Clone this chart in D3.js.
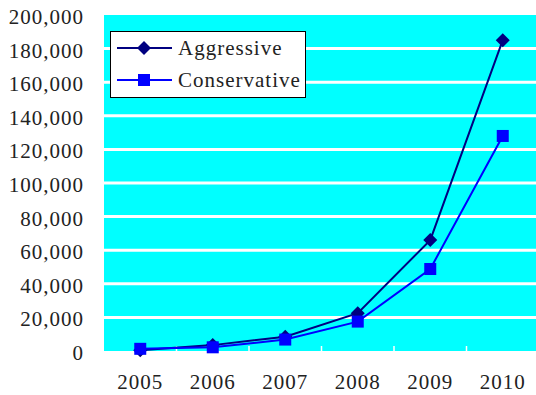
<!DOCTYPE html>
<html>
<head>
<meta charset="utf-8">
<script src="https://cdn.jsdelivr.net/npm/d3@7"></script>
<style>
  html, body { margin: 0; padding: 0; background: #fff; }
  svg { display: block; }
  svg text { font-family: 'Liberation Serif', 'Times New Roman', serif; fill: #222; }
</style>
</head>
<body>
<svg id="chart" width="536" height="395"></svg>
<script>
// Yearly totals for the two growth scenarios
const years = ["2005", "2006", "2007", "2008", "2009", "2010"];
const aggressive = [500, 3500, 8500, 22500, 66000, 185000];
const conservative = [1300, 2200, 6800, 17500, 48800, 128000];
const yTicks = [0, 20000, 40000, 60000, 80000, 100000, 120000, 140000, 160000, 180000, 200000];
const seriesNames = ["Aggressive", "Conservative"];

const svg = d3.select("#chart");
const plot = { left: 104, right: 539, top: 15, bottom: 351 };

const x = d3.scaleBand().domain(years).range([plot.left, plot.right]);
const y = d3.scaleLinear().domain([0, 200000]).range([plot.bottom, plot.top]);
const cx = d => x(d) + x.bandwidth() / 2;

// Plot background
svg.append("rect")
  .attr("x", plot.left).attr("y", plot.top)
  .attr("width", plot.right - plot.left).attr("height", plot.bottom - plot.top)
  .attr("fill", "#00ffff");

// Horizontal gridlines
svg.append("g").selectAll("line")
  .data(yTicks.filter(v => v > 0 && v < 200000))
  .join("line")
  .attr("x1", plot.left).attr("x2", plot.right)
  .attr("y1", d => y(d)).attr("y2", d => y(d))
  .attr("stroke", "#fff").attr("stroke-width", 3);

// Y axis labels
const fmt = d3.format(",");
const yAxis = d3.axisLeft(y).tickValues(yTicks).tickFormat(fmt).tickSize(0).tickPadding(20);
const gy = svg.append("g").attr("transform", `translate(${plot.left},0)`).call(yAxis);
gy.attr("font-family", null);
gy.select(".domain").remove();
gy.selectAll("text")
  .attr("font-size", 21).attr("letter-spacing", 1)
  .attr("fill", "#222").attr("dy", "0.4em");

// X axis: white inward tick marks at band edges, labels below
const xEdges = years.map(d => x(d)).concat([plot.right]).slice(1);
svg.append("g").selectAll("line").data(xEdges).join("line")
  .attr("x1", d => d).attr("x2", d => d)
  .attr("y1", plot.bottom - 5).attr("y2", plot.bottom)
  .attr("stroke", "#fff").attr("stroke-width", 1.5);
const xAxis = d3.axisBottom(x).tickSize(0).tickPadding(23);
const gx = svg.append("g").attr("transform", `translate(0,${plot.bottom})`).call(xAxis);
gx.attr("font-family", null);
gx.select(".domain").remove();
gx.selectAll("text")
  .attr("font-size", 21).attr("letter-spacing", 1)
  .attr("fill", "#222");

// Series lines and markers
const line = d3.line().x(d => cx(d.year)).y(d => y(d.value));
const series = [
  { name: seriesNames[0], values: aggressive, color: "#000080", marker: "diamond" },
  { name: seriesNames[1], values: conservative, color: "#0000ff", marker: "square" }
];

function drawMarker(g, type, color) {
  if (type === "diamond") {
    g.append("path").attr("d", "M0,-7L7,0L0,7L-7,0Z").attr("fill", color);
  } else {
    g.append("rect").attr("x", -6).attr("y", -6).attr("width", 12).attr("height", 12).attr("fill", color);
  }
}

series.forEach(s => {
  const pts = years.map((yr, i) => ({ year: yr, value: s.values[i] }));
  svg.append("path").datum(pts)
    .attr("d", line).attr("fill", "none")
    .attr("stroke", s.color).attr("stroke-width", 2);
  pts.forEach(p => {
    const g = svg.append("g").attr("transform", `translate(${cx(p.year)},${y(p.value)})`);
    drawMarker(g, s.marker, s.color);
  });
});

// Legend
const lg = svg.append("g");
lg.append("rect").attr("x", 110.5).attr("y", 31.5).attr("width", 195).attr("height", 66)
  .attr("fill", "#fff").attr("stroke", "#000").attr("stroke-width", 1);
series.forEach((s, i) => {
  const ly = 48 + i * 32;
  lg.append("line").attr("x1", 117).attr("x2", 172).attr("y1", ly).attr("y2", ly)
    .attr("stroke", s.color).attr("stroke-width", 2);
  const g = lg.append("g").attr("transform", `translate(144,${ly})`);
  drawMarker(g, s.marker, s.color);
  lg.append("text").attr("x", 178).attr("y", ly + 7)
    .attr("font-size", 21).attr("letter-spacing", 1)
    .text(s.name);
});
</script>
</body>
</html>
